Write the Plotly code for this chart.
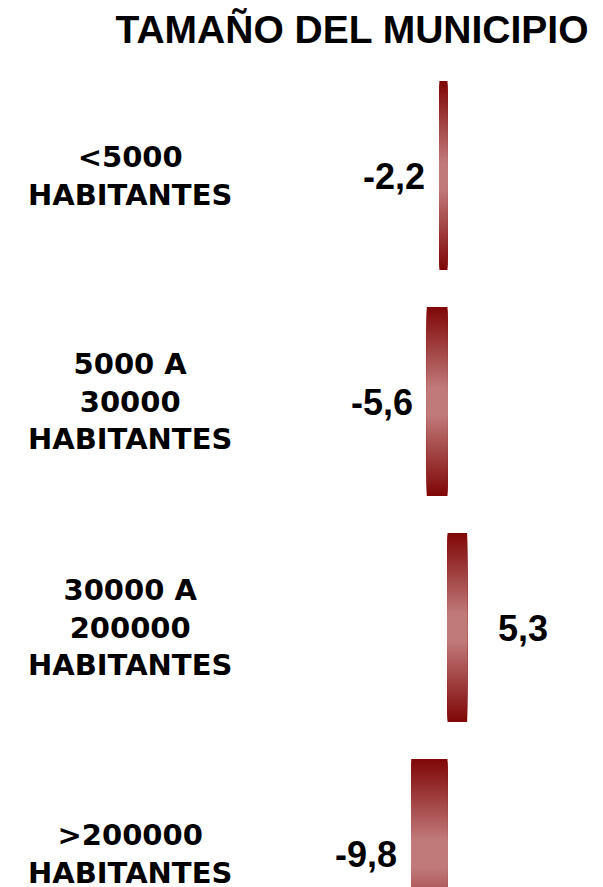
import plotly.graph_objects as go

# ---- data ----
categories = ["<5000<br>HABITANTES",
              "5000 A<br>30000<br>HABITANTES",
              "30000 A<br>200000<br>HABITANTES",
              ">200000<br>HABITANTES"]
values = [-2.2, -5.6, 5.3, -9.8]
title_text = "TAMAÑO DEL MUNICIPIO"

cat_ids = list(range(len(categories)))

# gradient approximation: overlaid bars of decreasing thickness
dark = (128, 8, 8)
light = (193, 122, 122)
n_layers = 40
full_w = 0.836

fig = go.Figure()
for k in range(n_layers):
    t = k / (n_layers - 1)
    t = min(1.0, t * 1.15)
    c = tuple(int(round(dark[i] + (light[i] - dark[i]) * t)) for i in range(3))
    w = full_w * (1 - k / n_layers)
    fig.add_trace(go.Bar(
        x=values, y=cat_ids, orientation="h",
        width=w,
        marker=dict(color="rgb(%d,%d,%d)" % c, line=dict(width=0)),
        hoverinfo="skip", showlegend=False,
    ))

# page has an 8px body margin: design in page pixels minus 8
OFF = 8
W, H = 603 - OFF, 887 - OFF

annotations = []
for i, (cat, v) in enumerate(zip(categories, values)):
    label = ("%.1f" % v).replace(".", ",")
    annotations.append(dict(
        x=v, y=i, xref="x", yref="y", text=label, showarrow=False,
        xanchor="right" if v < 0 else "left",
        xshift=-12 if v < 0 else 29,
        yanchor="middle", yshift=-1,
        font=dict(family="Liberation Sans, Arial", size=36, color="black", weight="bold"),
    ))
    annotations.append(dict(
        x=(130 - OFF) / W, y=i, xref="paper", yref="y", text=cat, showarrow=False,
        xanchor="center", yanchor="middle", align="center",
        font=dict(family="DejaVu Sans", size=29, color="black", weight="bold"),
    ))

px_per_unit = 3.7
zero_px = 447.5 - OFF
top_m = 60 - OFF
c0 = 175.5 - OFF
step = 226

fig.update_layout(
    width=W, height=H,
    margin=dict(l=0, r=0, t=top_m, b=0, pad=0),
    paper_bgcolor="white", plot_bgcolor="white",
    barmode="overlay",
    title=dict(text=title_text, x=(352 - OFF) / W, xref="container", xanchor="center",
               y=1 - (29 - OFF) / H, yref="container", yanchor="middle",
               font=dict(family="Liberation Sans, Arial", size=39, color="black", weight="bold")),
    xaxis=dict(range=[-zero_px / px_per_unit, (W - zero_px) / px_per_unit],
               visible=False, showgrid=False, zeroline=False, fixedrange=True),
    yaxis=dict(range=[(H - c0) / step, (top_m - c0) / step],
               visible=False, showgrid=False, zeroline=False, fixedrange=True),
    annotations=annotations,
)

fig.write_html("out.html")
